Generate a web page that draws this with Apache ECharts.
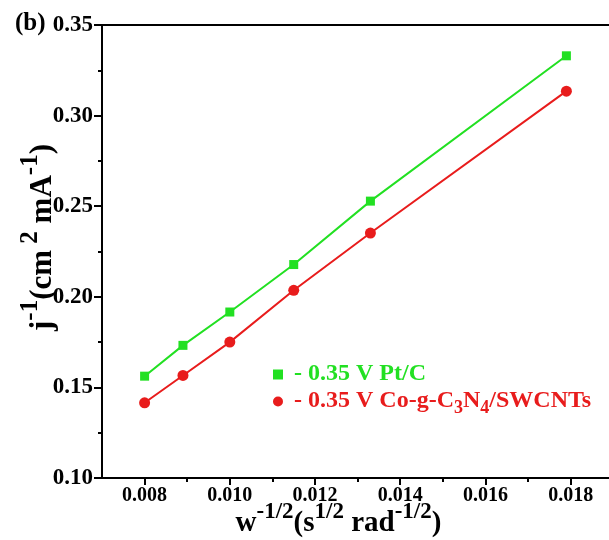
<!DOCTYPE html>
<html>
<head>
<meta charset="utf-8">
<script src="https://cdn.jsdelivr.net/npm/echarts@6/dist/echarts.min.js"></script>
<style>
  html, body { margin: 0; padding: 0; background: #fff; }
  #chart { width: 609px; height: 540px; }
</style>
</head>
<body>
<div id="chart"></div>
<script>
// w^-1/2 values (x)
const xValues = [0.0080, 0.0089, 0.0100, 0.0115, 0.0133, 0.0179];
// j^-1 values
const ptcData = [0.1562, 0.1732, 0.1916, 0.2178, 0.2528, 0.3330];
const coData = [0.1415, 0.1566, 0.1750, 0.2036, 0.2352, 0.3135];
// tick labels
const xMajorTicks = [0.008, 0.010, 0.012, 0.014, 0.016, 0.018];
const xMinorTicks = [0.009, 0.011, 0.013, 0.015, 0.017];

const GREEN = '#22e022';
const RED = '#e81c1c';
const FONT = 'Liberation Serif';

const pairs = (ys) => xValues.map((x, i) => [x, ys[i]]);

const chart = echarts.init(document.getElementById('chart'));

// superscripted axis titles
const makeTitleRich = (big, small, lift) => ({
  m: { fontFamily: FONT, fontWeight: 'bold', fontSize: big, lineHeight: big, verticalAlign: 'bottom', color: '#000' },
  s: { fontFamily: FONT, fontWeight: 'bold', fontSize: small, lineHeight: small, verticalAlign: 'bottom', padding: [0, 0, lift, 0], color: '#000' },
});

const legendRich = {
  g: { fontFamily: FONT, fontWeight: 'bold', fontSize: 24, lineHeight: 25, verticalAlign: 'top', color: GREEN },
  r: { fontFamily: FONT, fontWeight: 'bold', fontSize: 24, lineHeight: 25, verticalAlign: 'top', color: RED },
  rs: { fontFamily: FONT, fontWeight: 'bold', fontSize: 18, lineHeight: 18, verticalAlign: 'top', padding: [10, 0, 0, 0], color: RED },
};

const option = {
  animation: false,
  grid: { left: 102, top: 25, right: 0, bottom: 62, outerBoundsMode: 'none', containLabel: false },
  legend: {
    orient: 'vertical',
    left: 268,
    top: 357,
    itemWidth: 10,
    itemHeight: 10,
    itemGap: 3,
    textStyle: { rich: legendRich, padding: [0, 0, 0, 6] },
    data: [
      { name: 'ptc', icon: 'rect' },
      { name: 'co', icon: 'circle' },
    ],
    formatter: (name) => name === 'ptc'
      ? '{g|- 0.35 V Pt/C}'
      : '{r|- 0.35 V Co-g-C}{rs|3}{r|N}{rs|4}{r|/SWCNTs}',
  },
  graphic: [{
    type: 'text',
    left: 15,
    top: 11,
    style: { text: '(b)', fontFamily: FONT, fontWeight: 'bold', fontSize: 25, fill: '#000' },
  }],
  xAxis: [{
    type: 'value',
    min: 0.007,
    max: 0.0189,
    position: 'bottom',
    name: '{m|w}{s|-1/2}{m|(s}{s|1/2}{m| rad}{s|-1/2}{m|)}',
    nameLocation: 'middle',
    nameGap: 31,
    nameMoveOverlap: false,
    nameTextStyle: { rich: makeTitleRich(29, 23, 14), padding: [0, 34, 0, 0] },
    axisLine: { lineStyle: { color: '#000', width: 2 } },
    axisTick: { length: 7, lineStyle: { color: '#000', width: 2 }, customValues: xMajorTicks },
    axisLabel: {
      customValues: xMajorTicks,
      margin: 8,
      color: '#000', fontFamily: FONT, fontWeight: 'bold', fontSize: 20,
      formatter: (v) => v.toFixed(3),
    },
    splitLine: { show: false },
  }, {
    type: 'value',
    min: 0.007,
    max: 0.0189,
    position: 'bottom',
    axisLine: { show: false },
    axisTick: { length: 4, lineStyle: { color: '#000', width: 2 }, customValues: xMinorTicks },
    axisLabel: { show: false },
    splitLine: { show: false },
  }, {
    type: 'value',
    min: 0.007,
    max: 0.0189,
    position: 'top',
    axisLine: { lineStyle: { color: '#000', width: 2 } },
    axisTick: { show: false },
    axisLabel: { show: false },
    splitLine: { show: false },
  }],
  yAxis: {
    type: 'value',
    min: 0.10,
    max: 0.35,
    interval: 0.05,
    name: '{m|j}{s|-1}{m|(cm}{s| 2}{m| mA}{s|-1}{m|)}',
    nameLocation: 'middle',
    nameRotate: 90,
    nameGap: 44,
    nameMoveOverlap: false,
    nameTextStyle: { rich: makeTitleRich(31, 25, 15), padding: [0, 0, 0, 28] },
    axisLine: { lineStyle: { color: '#000', width: 2 } },
    axisTick: { length: 8, lineStyle: { color: '#000', width: 2 } },
    minorTick: { show: true, splitNumber: 2, length: 4, lineStyle: { color: '#000', width: 2 } },
    axisLabel: {
      margin: 9,
      color: '#000', fontFamily: FONT, fontWeight: 'bold', fontSize: 23,
      formatter: (v) => v.toFixed(2),
    },
    splitLine: { show: false },
  },
  series: [{
    name: 'ptc',
    type: 'line',
    data: pairs(ptcData),
    symbol: 'rect',
    symbolSize: 9,
    lineStyle: { color: GREEN, width: 2 },
    itemStyle: { color: GREEN },
  }, {
    name: 'co',
    type: 'line',
    data: pairs(coData),
    symbol: 'circle',
    symbolSize: 11,
    lineStyle: { color: RED, width: 2 },
    itemStyle: { color: RED },
  }],
};

chart.setOption(option);
</script>
</body>
</html>
